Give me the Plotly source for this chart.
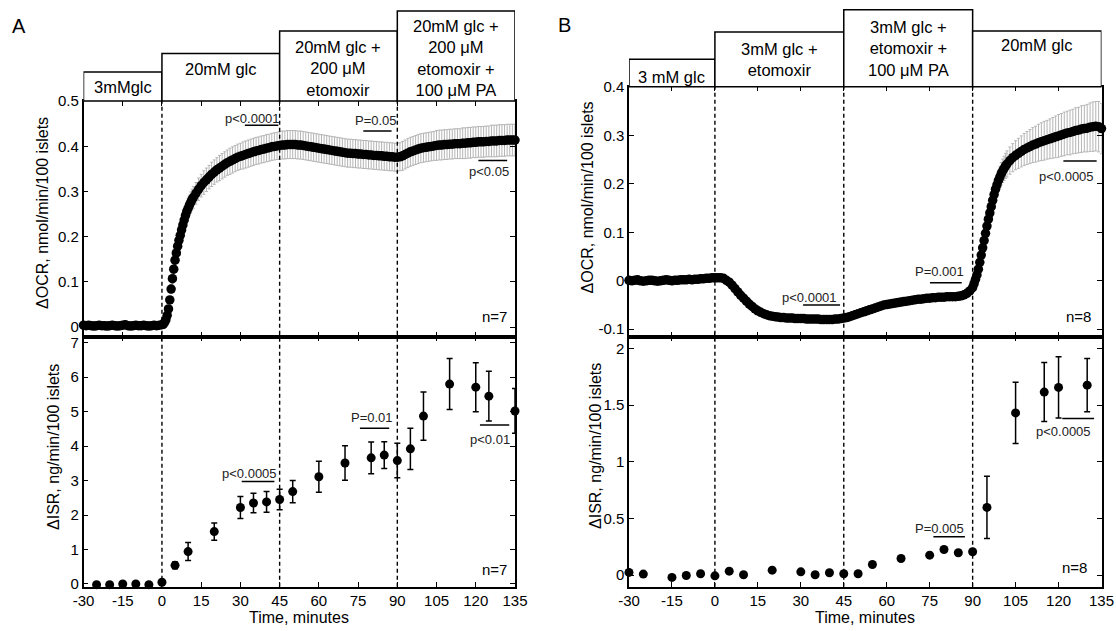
import plotly.graph_objects as go

# ---------------- DATA ----------------
# Panel A, top: dOCR (nmol/min/100 islets)
t_a_ocr = list(range(-30, 1)) + [0.5 * k for k in range(1, 25)] + list(range(13, 136))
ocr_a = [
    0.004, 0.003, 0.004, 0.003, 0.002, 0.003, 0.004, 0.003, 0.003, 0.002,
    0.003, 0.004, 0.003, 0.002, 0.003, 0.004, 0.005, 0.003, 0.002, 0.003,
    0.004, 0.003, 0.003, 0.004, 0.003, 0.002, 0.003, 0.004, 0.003, 0.004,
    0.005,
    # 0.5 .. 12 (half minutes)
    0.006, 0.010, 0.016, 0.026, 0.040, 0.060, 0.084, 0.107, 0.128, 0.148,
    0.164, 0.179, 0.192, 0.203, 0.215, 0.226, 0.237, 0.247, 0.256, 0.263,
    0.270, 0.276, 0.282, 0.287,
    # 13 .. 135
    0.296, 0.305, 0.313, 0.320, 0.326, 0.332, 0.338, 0.343, 0.348, 0.352,
    0.356, 0.360, 0.364, 0.367, 0.370, 0.373, 0.376, 0.378, 0.380, 0.382,
    0.384, 0.386, 0.388, 0.390, 0.391, 0.393, 0.394, 0.396, 0.397, 0.399,
    0.400, 0.401, 0.402, 0.403, 0.403, 0.404, 0.404, 0.404, 0.404, 0.403,
    0.403, 0.402, 0.401, 0.400, 0.399, 0.398, 0.397, 0.396, 0.395, 0.394,
    0.393, 0.392, 0.391, 0.390, 0.389, 0.388, 0.387, 0.386, 0.385, 0.385,
    0.384, 0.384, 0.383, 0.383, 0.382, 0.382, 0.381, 0.381, 0.380, 0.380,
    0.379, 0.379, 0.378, 0.378, 0.377, 0.377, 0.376, 0.376, 0.377, 0.379,
    0.382, 0.385, 0.388, 0.390, 0.392, 0.394, 0.396, 0.397, 0.398, 0.399,
    0.400, 0.401, 0.402, 0.403, 0.403, 0.404, 0.404, 0.405, 0.405, 0.406,
    0.406, 0.406, 0.407, 0.407, 0.408, 0.408, 0.409, 0.409, 0.410, 0.410,
    0.410, 0.411, 0.411, 0.412, 0.412, 0.412, 0.413, 0.413, 0.413, 0.414,
    0.414, 0.414, 0.414,
]
ocr_a_err = [
    0.002, 0.002, 0.002, 0.002, 0.002, 0.002, 0.002, 0.002, 0.002, 0.002,
    0.002, 0.002, 0.002, 0.002, 0.002, 0.002, 0.002, 0.002, 0.002, 0.002,
    0.002, 0.002, 0.002, 0.002, 0.002, 0.002, 0.002, 0.002, 0.002, 0.002,
    0.002,
    0.003, 0.004, 0.005, 0.006, 0.007, 0.008, 0.010, 0.011, 0.012, 0.013,
    0.014, 0.015, 0.016, 0.017, 0.018, 0.019, 0.020, 0.020, 0.021, 0.022,
    0.022, 0.023, 0.023, 0.024,
    0.024, 0.025, 0.025, 0.026, 0.026, 0.026, 0.027, 0.027, 0.027, 0.028,
    0.028, 0.028, 0.028, 0.029, 0.029, 0.029, 0.029, 0.029, 0.030, 0.030,
    0.030, 0.030, 0.030, 0.030, 0.030, 0.030, 0.030, 0.030, 0.030, 0.030,
    0.030, 0.030, 0.031, 0.031, 0.031, 0.031, 0.031, 0.031, 0.031, 0.031,
    0.031, 0.031, 0.031, 0.031, 0.031, 0.031, 0.031, 0.031, 0.031, 0.031,
    0.031, 0.031, 0.031, 0.031, 0.031, 0.031, 0.031, 0.031, 0.031, 0.031,
    0.031, 0.031, 0.031, 0.031, 0.031, 0.031, 0.031, 0.031, 0.031, 0.031,
    0.031, 0.031, 0.031, 0.031, 0.031, 0.031, 0.031, 0.031, 0.031, 0.032,
    0.032, 0.032, 0.032, 0.032, 0.032, 0.032, 0.032, 0.032, 0.032, 0.032,
    0.032, 0.032, 0.033, 0.033, 0.033, 0.033, 0.033, 0.033, 0.033, 0.033,
    0.033, 0.033, 0.034, 0.034, 0.034, 0.034, 0.034, 0.034, 0.034, 0.034,
    0.034, 0.034, 0.034, 0.035, 0.035, 0.035, 0.035, 0.035, 0.035, 0.035,
    0.035, 0.035, 0.035,
]

# Panel A, bottom: dISR (ng/min/100 islets)
t_a_isr = [-25, -20, -15, -10, -5, 0, 5, 10, 20, 30, 35, 40, 45, 50, 60, 70, 80, 85, 90, 95, 100, 110, 120, 125, 135]
isr_a = [-0.02, -0.02, 0.0, 0.0, -0.02, 0.05, 0.54, 0.94, 1.52, 2.22, 2.35, 2.38, 2.45, 2.68, 3.11, 3.51, 3.66, 3.74, 3.58, 3.92, 4.87, 5.80, 5.71, 5.45, 5.02]
isr_a_err = [0.03, 0.03, 0.03, 0.03, 0.03, 0.03, 0.10, 0.26, 0.25, 0.32, 0.28, 0.30, 0.30, 0.32, 0.45, 0.50, 0.46, 0.39, 0.50, 0.60, 0.70, 0.74, 0.71, 0.72, 0.65]

# Panel B, top: dOCR
t_b_ocr = list(range(-30, 91)) + [90 + 0.5 * k for k in range(1, 25)] + list(range(103, 136))
ocr_b = [
    0.001, 0.000, 0.001, 0.002, 0.000, -0.001, 0.000, 0.001, 0.001, 0.000,
    -0.001, 0.000, 0.001, 0.002, 0.001, 0.000, 0.001, 0.001, 0.002, 0.002,
    0.002, 0.003, 0.002, 0.003, 0.003, 0.004, 0.004, 0.005, 0.005, 0.006,
    0.006, 0.006, 0.006, 0.005, 0.001, -0.003, -0.009, -0.016, -0.023, -0.030,
    -0.036, -0.042, -0.048, -0.053, -0.058, -0.062, -0.065, -0.068, -0.070, -0.072,
    -0.073, -0.074, -0.075, -0.076, -0.076, -0.077, -0.077, -0.077, -0.078, -0.078,
    -0.078, -0.078, -0.079, -0.079, -0.079, -0.079, -0.079, -0.080, -0.080, -0.080,
    -0.080, -0.080, -0.079, -0.079, -0.078, -0.077, -0.076, -0.074, -0.072, -0.070,
    -0.068, -0.066, -0.064, -0.062, -0.060, -0.058, -0.056, -0.054, -0.052, -0.050,
    -0.049, -0.048, -0.047, -0.046, -0.045, -0.044, -0.043, -0.042, -0.041, -0.040,
    -0.039, -0.038, -0.038, -0.037, -0.036, -0.036, -0.035, -0.035, -0.034, -0.034,
    -0.034, -0.033, -0.033, -0.033, -0.033, -0.032, -0.031, -0.029, -0.026, -0.021,
    -0.014,
    # 90.5 .. 102 (half minutes)
    -0.006, 0.003, 0.012, 0.024, 0.038, 0.053, 0.068, 0.083, 0.098, 0.113,
    0.127, 0.140, 0.153, 0.166, 0.178, 0.189, 0.198, 0.207, 0.214, 0.221,
    0.227, 0.232, 0.237, 0.241,
    # 103 .. 135
    0.248, 0.254, 0.259, 0.263, 0.267, 0.271, 0.274, 0.277, 0.280, 0.282,
    0.285, 0.287, 0.289, 0.291, 0.293, 0.295, 0.297, 0.299, 0.301, 0.303,
    0.305, 0.306, 0.308, 0.310, 0.311, 0.313, 0.314, 0.315, 0.317, 0.318,
    0.319, 0.318, 0.314,
]
ocr_b_err = [
    0.003, 0.003, 0.003, 0.003, 0.003, 0.003, 0.003, 0.003, 0.003, 0.003,
    0.003, 0.003, 0.003, 0.003, 0.003, 0.003, 0.003, 0.003, 0.003, 0.003,
    0.003, 0.003, 0.003, 0.003, 0.003, 0.003, 0.003, 0.003, 0.003, 0.003,
    0.003, 0.003, 0.003, 0.003, 0.004, 0.004, 0.004, 0.004, 0.004, 0.004,
    0.004, 0.004, 0.004, 0.004, 0.004, 0.004, 0.004, 0.004, 0.004, 0.004,
    0.004, 0.004, 0.004, 0.004, 0.004, 0.004, 0.004, 0.004, 0.004, 0.004,
    0.004, 0.004, 0.004, 0.004, 0.004, 0.004, 0.004, 0.004, 0.004, 0.004,
    0.004, 0.004, 0.004, 0.004, 0.004, 0.004, 0.004, 0.004, 0.004, 0.004,
    0.004, 0.004, 0.004, 0.004, 0.004, 0.004, 0.004, 0.004, 0.004, 0.004,
    0.004, 0.004, 0.004, 0.004, 0.004, 0.004, 0.004, 0.004, 0.004, 0.004,
    0.004, 0.004, 0.004, 0.004, 0.004, 0.004, 0.004, 0.004, 0.004, 0.004,
    0.004, 0.004, 0.004, 0.004, 0.004, 0.004, 0.004, 0.005, 0.005, 0.005,
    0.005,
    0.005, 0.006, 0.006, 0.007, 0.008, 0.009, 0.010, 0.011, 0.012, 0.013,
    0.014, 0.015, 0.016, 0.017, 0.018, 0.019, 0.020, 0.021, 0.022, 0.023,
    0.024, 0.025, 0.026, 0.027,
    0.028, 0.029, 0.030, 0.031, 0.032, 0.033, 0.034, 0.035, 0.036, 0.037,
    0.038, 0.039, 0.040, 0.040, 0.041, 0.042, 0.043, 0.044, 0.044, 0.045,
    0.045, 0.046, 0.046, 0.047, 0.047, 0.048, 0.048, 0.049, 0.050, 0.051,
    0.051, 0.052, 0.052,
]

# Panel B, bottom: dISR
t_b_isr = [-30, -25, -15, -10, -5, 0, 5, 10, 20, 30, 35, 40, 45, 50, 55, 65, 75, 80, 85, 90, 95, 105, 115, 120, 130]
isr_b = [0.024, 0.009, -0.020, -0.003, 0.012, -0.006, 0.035, 0.003, 0.044, 0.029, 0.003, 0.021, 0.012, 0.012, 0.094, 0.147, 0.176, 0.226, 0.197, 0.206, 0.597, 1.430, 1.614, 1.655, 1.675]
isr_b_err = [0.01, 0.01, 0.01, 0.01, 0.01, 0.01, 0.01, 0.01, 0.01, 0.01, 0.01, 0.01, 0.01, 0.01, 0.01, 0.01, 0.01, 0.01, 0.01, 0.02, 0.275, 0.27, 0.26, 0.27, 0.235]

x_ticks = [-30, -15, 0, 15, 30, 45, 60, 75, 90, 105, 120, 135]
x_ticktext = ["-30", "-15", "0", "15", "30", "45", "60", "75", "90", "105", "120", "135"]

# condition headers: (x0, x1, label)
cond_a = [(-30, 0, "3mMglc"), (0, 45, "20mM glc"),
          (45, 90, "20mM glc +<br>200 μM<br>etomoxir"),
          (90, 135, "20mM glc +<br>200 μM<br>etomoxir +<br>100 μM PA")]
cond_b = [(-30, 0, "3 mM glc"), (0, 45, "3mM glc +<br>etomoxir"),
          (45, 90, "3mM glc +<br>etomoxir +<br>100 μM PA"), (90, 135, "20mM glc")]

# ---------------- LAYOUT HELPERS ----------------
W, H = 1116, 631
FONT = "Liberation Sans, Arial, sans-serif"


def yp(p):
    return 1 - p / H


def xp(p):
    return p / W


fig = go.Figure()

ocr_marker = dict(color="black", size=9.5, line=dict(width=0))
gray_err = dict(color="#b4b4b4", thickness=1, width=1.5)
blk_err = dict(color="black", thickness=1.5, width=3)

fig.add_trace(go.Scatter(x=t_a_ocr, y=ocr_a, mode="markers", marker=ocr_marker,
                         error_y=dict(type="data", array=ocr_a_err, **gray_err),
                         xaxis="x", yaxis="y", cliponaxis=False))
fig.add_trace(go.Scatter(x=t_a_isr, y=isr_a, mode="markers", marker=dict(color="black", size=9),
                         error_y=dict(type="data", array=isr_a_err, **blk_err),
                         xaxis="x2", yaxis="y2", cliponaxis=False))
fig.add_trace(go.Scatter(x=t_b_ocr, y=ocr_b, mode="markers", marker=ocr_marker,
                         error_y=dict(type="data", array=ocr_b_err, **gray_err),
                         xaxis="x3", yaxis="y3", cliponaxis=False))
fig.add_trace(go.Scatter(x=t_b_isr, y=isr_b, mode="markers", marker=dict(color="black", size=9),
                         error_y=dict(type="data", array=isr_b_err, **blk_err),
                         xaxis="x4", yaxis="y4", cliponaxis=False))

axis_common = dict(showline=True, linecolor="black", linewidth=1.5, mirror="ticks",
                   ticks="inside", ticklen=5, tickwidth=1.2, tickcolor="black",
                   showgrid=False, zeroline=False, automargin=False,
                   tickfont=dict(family=FONT, size=15, color="black"))

A_X = [xp(83.5), xp(515)]
B_X = [xp(629), xp(1101.5)]
TOP_A = [yp(336.5), yp(101)]
TOP_B = [yp(336.5), yp(86.7)]
BOT = [yp(586.7), yp(336.5)]

xa = dict(axis_common, range=[-30, 135], tickvals=x_ticks, ticktext=x_ticktext)

fig.update_layout(
    width=W, height=H, margin=dict(l=0, r=0, t=0, b=0, autoexpand=False),
    paper_bgcolor="white", plot_bgcolor="white", showlegend=False,
    font=dict(family=FONT, color="black"),
    xaxis=dict(xa, domain=A_X, anchor="y", showticklabels=False),
    yaxis=dict(axis_common, domain=TOP_A, anchor="x", range=[-0.021, 0.5005],
               tickvals=[0, 0.1, 0.2, 0.3, 0.4, 0.5], ticktext=["0", "0.1", "0.2", "0.3", "0.4", "0.5"]),
    xaxis2=dict(xa, domain=A_X, anchor="y2"),
    yaxis2=dict(axis_common, domain=BOT, anchor="x2", range=[-0.079, 7.18],
                tickvals=[0, 1, 2, 3, 4, 5, 6, 7]),
    xaxis3=dict(xa, domain=B_X, anchor="y3", showticklabels=False),
    yaxis3=dict(axis_common, domain=TOP_B, anchor="x3", range=[-0.115, 0.4005],
                tickvals=[-0.1, 0, 0.1, 0.2, 0.3, 0.4], ticktext=["-0.1", "0", "0.1", "0.2", "0.3", "0.4"]),
    xaxis4=dict(xa, domain=B_X, anchor="y4"),
    yaxis4=dict(axis_common, domain=BOT, anchor="x4", range=[-0.102, 2.104],
                tickvals=[0, 0.5, 1, 1.5, 2], ticktext=["0", "0.5", "1", "1.5", "2"]),
)

shapes = []
annots = []


def text(t, x, y, xref, yref, size, **kw):
    color = kw.pop("color", "black")
    kw.setdefault("xanchor", "center")
    kw.setdefault("yanchor", "middle")
    annots.append(dict(text=t, x=x, y=y, xref=xref, yref=yref, showarrow=False,
                       font=dict(family=FONT, size=size, color=color), **kw))


# header boxes
box_tops_a = [72, 53.5, 31, 11]
text_y_a = [87, 69, 68, 58]
box_tops_b = [59.3, 32, 9.7, 31]
text_y_b = [77, 59.5, 48, 45]
for (x0, x1, lab), top, ty in zip(cond_a, box_tops_a, text_y_a):
    shapes.append(dict(type="rect", xref="x", yref="paper", x0=x0, x1=x1, y0=yp(101), y1=yp(top),
                       line=dict(color="black", width=1.5), fillcolor="white"))
    text(lab, (x0 + x1) / 2, yp(ty), "x", "paper", 16.5)
for (x0, x1, lab), top, ty in zip(cond_b, box_tops_b, text_y_b):
    shapes.append(dict(type="rect", xref="x3", yref="paper", x0=x0, x1=x1, y0=yp(86.7), y1=yp(top),
                       line=dict(color="black", width=1.5), fillcolor="white"))
    text(lab, (x0 + x1) / 2, yp(ty), "x3", "paper", 16.5)

# dashed condition change lines
for xv in [0, 45, 90]:
    shapes.append(dict(type="line", xref="x", yref="paper", x0=xv, x1=xv, y0=yp(586.7), y1=yp(101),
                       line=dict(color="black", width=1.4, dash="4px,3px")))
    shapes.append(dict(type="line", xref="x3", yref="paper", x0=xv, x1=xv, y0=yp(586.7), y1=yp(86.7),
                       line=dict(color="black", width=1.4, dash="4px,3px")))

# significance bars: (xref, yref, x0, x1, ybar, label, xlabel, ylabel)
sig = [
    ("x", "y", 31.7, 44.5, 0.447, "p<0.0001", 34.6, 0.462),
    ("x", "y", 77, 87.8, 0.434, "P=0.05", 81.8, 0.458),
    ("x", "y", 121, 132, 0.369, "p<0.05", 124.9, 0.344),
    ("x2", "y2", 30.5, 43, 2.97, "p<0.0005", 33.3, 3.2),
    ("x2", "y2", 75.7, 86.9, 4.52, "P=0.01", 80.3, 4.84),
    ("x2", "y2", 121.6, 132.8, 4.61, "p<0.01", 125.3, 4.2),
    ("x3", "y3", 30.8, 43.7, -0.05, "p<0.0001", 33, -0.034),
    ("x3", "y3", 75.1, 86.2, -0.004, "P=0.001", 78.6, 0.019),
    ("x3", "y3", 121.7, 133.3, 0.247, "p<0.0005", 122.8, 0.216),
    ("x4", "y4", 76.3, 87.3, 0.338, "P=0.005", 78.3, 0.41),
    ("x4", "y4", 121.3, 132.4, 1.38, "p<0.0005", 121.9, 1.264),
]
for xr, yr, x0, x1, yb, lab, xl, yl in sig:
    shapes.append(dict(type="line", xref=xr, yref=yr, x0=x0, x1=x1, y0=yb, y1=yb,
                       line=dict(color="black", width=1.5)))
    text(lab, xl, yl, xr, yr, 13, color="#222222")

# n labels
text("n=7", 127.3, 0.024, "x", "y", 15)
text("n=7", 127.3, 0.43, "x2", "y2", 15)
text("n=8", 126.8, -0.073, "x3", "y3", 15)
text("n=8", 125.7, 0.068, "x4", "y4", 15)

# axis titles
text("ΔOCR, nmol/min/100 islets", xp(43), yp(213), "paper", "paper", 16, textangle=-90)
text("ΔISR, ng/min/100 islets", xp(53), yp(447), "paper", "paper", 16, textangle=-90)
text("ΔOCR, nmol/min/100 islets", xp(587.5), yp(198), "paper", "paper", 16, textangle=-90)
text("ΔISR, ng/min/100 islets", xp(595), yp(446), "paper", "paper", 16, textangle=-90)
text("Time, minutes", xp(299), yp(617), "paper", "paper", 16)
text("Time, minutes", xp(865), yp(617), "paper", "paper", 16)

# panel letters
text("A", xp(19.5), yp(26), "paper", "paper", 20)
text("B", xp(564), yp(25), "paper", "paper", 20)

fig.update_layout(shapes=shapes, annotations=annots)
fig.write_html("out.html", config={"displayModeBar": False},
               post_script="document.body.style.margin='0px';document.body.style.overflow='hidden';")
